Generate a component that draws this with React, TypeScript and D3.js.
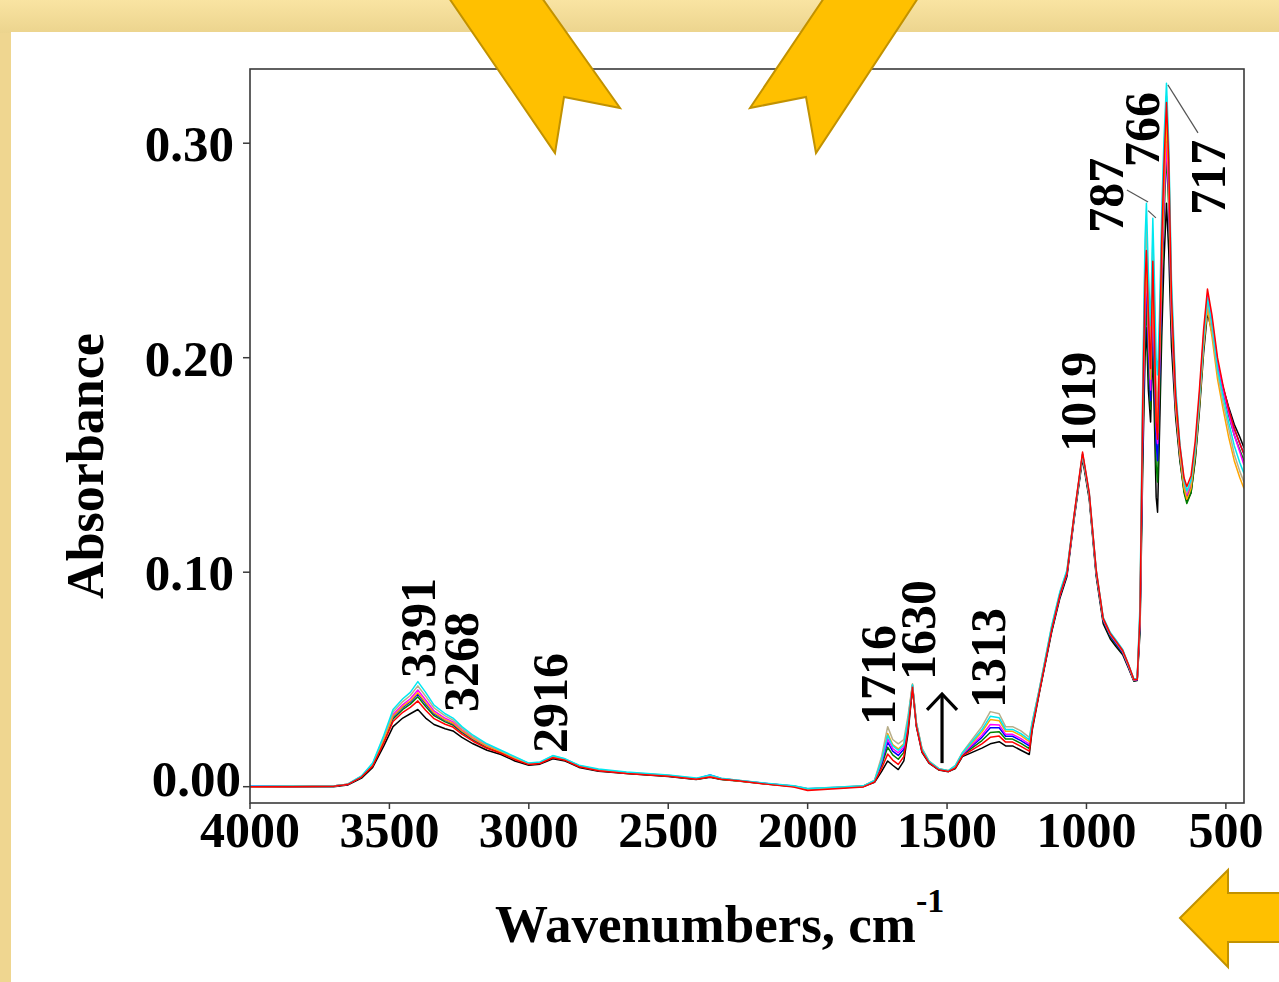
import * as d3 from 'd3';
import { useEffect, useRef } from 'react';

// shared wavenumber grid (cm-1), high to low
const WAVENUMBERS = [
  4000, 3850, 3700, 3650, 3600, 3560, 3520, 3487, 3452, 3425,
  3398, 3370, 3340, 3300, 3272, 3240, 3200, 3150, 3100, 3050,
  3000, 2960, 2914, 2870, 2820, 2750, 2650, 2500, 2400, 2350,
  2310, 2250, 2150, 2050, 2000, 1900, 1800, 1760, 1735, 1713,
  1695, 1675, 1655, 1640, 1624, 1610, 1590, 1565, 1530, 1495,
  1470, 1445, 1410, 1375, 1345, 1313, 1290, 1265, 1235, 1205,
  1195, 1170, 1125, 1095, 1070, 1045, 1014, 990, 965, 940,
  915, 895, 870, 850, 830, 818, 808, 798, 790, 785,
  778, 770, 762, 757, 750, 745, 738, 730, 722, 713,
  705, 695, 680, 665, 650, 640, 625, 610, 595, 580,
  566, 550, 530, 510, 490, 470, 450, 435
];

const ABS_BLACK = [
  0, 0, 0, 0.0008, 0.004, 0.009, 0.019, 0.028, 0.032, 0.034,
  0.036, 0.032, 0.029, 0.027, 0.026, 0.023, 0.020, 0.017, 0.015, 0.012,
  0.010, 0.0105, 0.013, 0.012, 0.009, 0.0072, 0.0061, 0.0048, 0.0034, 0.0044,
  0.0034, 0.0027, 0.0013, 0.0001, -0.0012, -0.0006, 0.0001, 0.002, 0.007, 0.012,
  0.010, 0.008, 0.012, 0.025, 0.046, 0.028, 0.016, 0.011, 0.0078, 0.007,
  0.0085, 0.014, 0.016, 0.018, 0.020, 0.021, 0.019, 0.019, 0.017, 0.015,
  0.026, 0.043, 0.072, 0.088, 0.098, 0.124, 0.153, 0.134, 0.098, 0.076,
  0.069, 0.0655, 0.0615, 0.0555, 0.0492, 0.0495, 0.072, 0.150, 0.200, 0.214,
  0.185, 0.170, 0.205, 0.175, 0.135, 0.128, 0.165, 0.210, 0.245, 0.272,
  0.250, 0.205, 0.172, 0.152, 0.138, 0.133, 0.137, 0.152, 0.175, 0.202,
  0.221, 0.212, 0.196, 0.186, 0.177, 0.169, 0.163, 0.158
];

const ABS_RED = [
  0, 0, 0.0002, 0.001, 0.0045, 0.0096, 0.0205, 0.0304, 0.0347, 0.037,
  0.040, 0.0356, 0.0317, 0.0291, 0.0278, 0.0245, 0.0212, 0.0179, 0.0156, 0.0126,
  0.0103, 0.0108, 0.0135, 0.0123, 0.0093, 0.0074, 0.0062, 0.0049, 0.0035, 0.0045,
  0.0035, 0.0028, 0.0012, -0.0002, -0.0018, -0.0009, -0.0001, 0.0022, 0.0084, 0.0152,
  0.0124, 0.0104, 0.014, 0.0266, 0.0464, 0.0284, 0.0164, 0.0112, 0.0079, 0.0071,
  0.0088, 0.0144, 0.0172, 0.020, 0.023, 0.0236, 0.0208, 0.0208, 0.0188, 0.0166,
  0.027, 0.0435, 0.073, 0.0895, 0.0995, 0.126, 0.156, 0.137, 0.101, 0.0785,
  0.0715, 0.068, 0.0635, 0.0572, 0.050, 0.050, 0.080, 0.180, 0.235, 0.250,
  0.220, 0.195, 0.245, 0.215, 0.170, 0.162, 0.205, 0.255, 0.290, 0.319,
  0.292, 0.228, 0.182, 0.159, 0.144, 0.140, 0.145, 0.161, 0.185, 0.213,
  0.232, 0.220, 0.200, 0.187, 0.176, 0.167, 0.160, 0.155
];

const ABS_GREEN = [
  0, 0.0002, 0.0003, 0.001, 0.0045, 0.0099, 0.0213, 0.0316, 0.036, 0.0385,
  0.0419, 0.0374, 0.0331, 0.0302, 0.0287, 0.0253, 0.0218, 0.0184, 0.0159, 0.0129,
  0.0105, 0.011, 0.0137, 0.0125, 0.0095, 0.0075, 0.0063, 0.005, 0.0035, 0.0046,
  0.0035, 0.0028, 0.0014, 0.0002, -0.0011, -0.0005, 0.0002, 0.0024, 0.0098, 0.0184,
  0.0148, 0.0128, 0.016, 0.0282, 0.0468, 0.0288, 0.0168, 0.0114, 0.008, 0.0072,
  0.009, 0.0147, 0.0181, 0.0215, 0.0253, 0.0256, 0.0222, 0.0222, 0.0202, 0.0178,
  0.0275, 0.0438, 0.0725, 0.089, 0.099, 0.1245, 0.154, 0.135, 0.099, 0.0772,
  0.070, 0.0665, 0.0622, 0.056, 0.0494, 0.0497, 0.075, 0.160, 0.210, 0.225,
  0.195, 0.176, 0.215, 0.190, 0.150, 0.142, 0.180, 0.230, 0.265, 0.295,
  0.270, 0.215, 0.175, 0.153, 0.137, 0.132, 0.137, 0.153, 0.177, 0.206,
  0.225, 0.214, 0.196, 0.184, 0.173, 0.164, 0.157, 0.152
];

const ABS_BLUE = [
  0.0002, 0.0002, 0.0003, 0.001, 0.0046, 0.0101, 0.0218, 0.0324, 0.037, 0.0395,
  0.0432, 0.0386, 0.034, 0.0309, 0.0293, 0.0258, 0.0222, 0.0187, 0.0161, 0.0131,
  0.0106, 0.011, 0.0138, 0.0126, 0.0096, 0.0076, 0.0064, 0.0051, 0.0036, 0.0055,
  0.0038, 0.0029, 0.0015, 0.0002, -0.0012, -0.0006, 0.0002, 0.0025, 0.0109, 0.0208,
  0.0166, 0.0146, 0.0175, 0.0294, 0.0471, 0.0291, 0.0171, 0.0115, 0.0081, 0.0072,
  0.0093, 0.015, 0.019, 0.023, 0.0275, 0.0275, 0.0235, 0.0235, 0.0215, 0.019,
  0.028, 0.044, 0.073, 0.0892, 0.0992, 0.125, 0.1545, 0.1355, 0.0995, 0.0775,
  0.0705, 0.067, 0.0625, 0.0562, 0.0495, 0.0498, 0.077, 0.165, 0.220, 0.235,
  0.205, 0.180, 0.225, 0.200, 0.160, 0.152, 0.190, 0.240, 0.275, 0.305,
  0.280, 0.220, 0.178, 0.155, 0.140, 0.135, 0.140, 0.156, 0.180, 0.208,
  0.227, 0.216, 0.198, 0.186, 0.176, 0.167, 0.160, 0.155
];

const ABS_MAGENTA = [
  0, 0.0002, 0.0003, 0.0011, 0.0048, 0.0104, 0.0225, 0.0336, 0.0383, 0.041,
  0.0451, 0.0404, 0.0353, 0.0319, 0.0302, 0.0265, 0.0228, 0.0191, 0.0164, 0.0134,
  0.0107, 0.0112, 0.014, 0.0127, 0.0097, 0.0077, 0.0065, 0.0052, 0.0037, 0.005,
  0.0037, 0.0029, 0.0015, 0.0003, -0.001, -0.0004, 0.0003, 0.0026, 0.0116, 0.0224,
  0.0178, 0.0158, 0.0185, 0.0302, 0.0473, 0.0293, 0.0173, 0.0116, 0.0082, 0.0073,
  0.0094, 0.0152, 0.0196, 0.024, 0.029, 0.0288, 0.0244, 0.0244, 0.0224, 0.0198,
  0.0285, 0.0443, 0.0735, 0.0895, 0.0995, 0.1252, 0.155, 0.136, 0.100, 0.078,
  0.071, 0.0675, 0.063, 0.0565, 0.0497, 0.050, 0.078, 0.170, 0.225, 0.240,
  0.210, 0.185, 0.232, 0.205, 0.168, 0.160, 0.195, 0.240, 0.272, 0.300,
  0.276, 0.218, 0.177, 0.155, 0.140, 0.136, 0.141, 0.157, 0.181, 0.210,
  0.229, 0.218, 0.198, 0.185, 0.174, 0.164, 0.156, 0.150
];

const ABS_ORANGE = [
  0, 0.0002, 0.0003, 0.0011, 0.0047, 0.0102, 0.022, 0.0328, 0.0374, 0.040,
  0.0438, 0.0392, 0.0344, 0.0312, 0.0296, 0.026, 0.0224, 0.0188, 0.0162, 0.0132,
  0.0106, 0.0111, 0.0139, 0.0126, 0.0096, 0.0077, 0.0065, 0.0051, 0.0036, 0.0047,
  0.0036, 0.0028, 0.0014, 0.0002, -0.0011, -0.0005, 0.0003, 0.0027, 0.0126, 0.0248,
  0.0196, 0.0176, 0.020, 0.0314, 0.0476, 0.0296, 0.0176, 0.0118, 0.0083, 0.0074,
  0.0096, 0.0155, 0.0205, 0.0255, 0.0313, 0.0308, 0.0258, 0.0258, 0.0238, 0.021,
  0.029, 0.0445, 0.074, 0.090, 0.100, 0.1255, 0.1548, 0.1358, 0.1002, 0.0782,
  0.0712, 0.0678, 0.0632, 0.0567, 0.0498, 0.0501, 0.079, 0.175, 0.230, 0.245,
  0.215, 0.190, 0.238, 0.210, 0.172, 0.165, 0.200, 0.245, 0.280, 0.310,
  0.284, 0.222, 0.178, 0.155, 0.139, 0.134, 0.139, 0.155, 0.178, 0.205,
  0.223, 0.210, 0.190, 0.176, 0.163, 0.152, 0.144, 0.139
];

const ABS_TAN = [
  0, 0.0002, 0.0003, 0.0012, 0.0049, 0.0107, 0.0233, 0.0348, 0.0397, 0.0425,
  0.047, 0.0422, 0.0367, 0.033, 0.0311, 0.0273, 0.0234, 0.0196, 0.0167, 0.0137,
  0.0109, 0.0113, 0.0143, 0.0129, 0.0099, 0.0079, 0.0066, 0.0053, 0.0038, 0.0049,
  0.0038, 0.003, 0.0015, 0.0003, -0.0009, -0.0003, 0.0004, 0.003, 0.014, 0.028,
  0.022, 0.020, 0.022, 0.033, 0.048, 0.030, 0.018, 0.012, 0.0085, 0.0075,
  0.010, 0.016, 0.022, 0.028, 0.035, 0.034, 0.028, 0.028, 0.026, 0.023,
  0.030, 0.045, 0.0745, 0.0905, 0.1005, 0.1258, 0.1552, 0.1362, 0.1005, 0.0785,
  0.0715, 0.068, 0.0635, 0.057, 0.050, 0.0502, 0.082, 0.185, 0.245, 0.262,
  0.230, 0.205, 0.255, 0.228, 0.185, 0.178, 0.212, 0.260, 0.295, 0.322,
  0.295, 0.230, 0.183, 0.158, 0.142, 0.137, 0.142, 0.157, 0.180, 0.207,
  0.226, 0.213, 0.193, 0.179, 0.167, 0.155, 0.147, 0.142
];

const ABS_CYAN = [
  0.0002, 0.0002, 0.0003, 0.0012, 0.005, 0.011, 0.024, 0.036, 0.041, 0.044,
  0.049, 0.044, 0.038, 0.034, 0.032, 0.028, 0.024, 0.020, 0.017, 0.014,
  0.011, 0.0115, 0.0145, 0.013, 0.010, 0.0082, 0.0068, 0.0054, 0.004, 0.0055,
  0.004, 0.003, 0.0016, 0.0004, -0.0008, -0.0003, 0.0004, 0.0029, 0.0123, 0.024,
  0.019, 0.017, 0.0195, 0.031, 0.0475, 0.0295, 0.0175, 0.0118, 0.0084, 0.0075,
  0.0098, 0.0157, 0.0211, 0.0265, 0.0328, 0.0321, 0.0267, 0.0267, 0.0247, 0.0218,
  0.0295, 0.0448, 0.075, 0.091, 0.101, 0.126, 0.155, 0.137, 0.101, 0.079,
  0.072, 0.0685, 0.064, 0.0572, 0.0502, 0.0505, 0.085, 0.190, 0.255, 0.272,
  0.240, 0.215, 0.265, 0.240, 0.200, 0.192, 0.220, 0.268, 0.302, 0.328,
  0.300, 0.236, 0.186, 0.160, 0.143, 0.138, 0.143, 0.158, 0.182, 0.209,
  0.228, 0.216, 0.195, 0.182, 0.170, 0.159, 0.151, 0.146
];

// drawing order: red ends on top, like the original plot
const SERIES = [
  { color: '#000000', values: ABS_BLACK },
  { color: '#008000', values: ABS_GREEN },
  { color: '#0000ff', values: ABS_BLUE },
  { color: '#ff00ff', values: ABS_MAGENTA },
  { color: '#ffa500', values: ABS_ORANGE },
  { color: '#b8ae8a', values: ABS_TAN },
  { color: '#00e8f0', values: ABS_CYAN },
  { color: '#ff0000', values: ABS_RED }
];

const X_TICKS = [4000, 3500, 3000, 2500, 2000, 1500, 1000, 500];
const Y_TICKS = [0, 0.1, 0.2, 0.3];

// peak labels: text, and where the rotated text starts (wavenumber, absorbance)
const PEAK_TEXT = ['3391', '3268', '2916', '1716', '1630', '1313', '1019', '787', '766', '717'];
const PEAK_TEXT_WN = [3336, 3182, 2863, 1687, 1543, 1292, 969, 869, 740, 503];
const PEAK_TEXT_ABS = [0.0507, 0.0348, 0.0157, 0.0288, 0.0498, 0.0367, 0.1561, 0.2582, 0.2889, 0.2666];

// leader lines for the crowded peaks: [wn1, abs1, wn2, abs2]
const LEADERS = [
  [855, 0.2782, 779, 0.2726],
  [779, 0.2686, 751, 0.2652],
  [708, 0.3272, 600, 0.3048]
];

// growth arrow near 1500 cm-1
const ARROW_WN = 1518;
const ARROW_ABS = [0.011, 0.0437];

const FONT = "'Liberation Serif', 'Times New Roman', serif";

function App() {
  const svgRef = useRef<SVGSVGElement>(null);

  useEffect(() => {
    if (!svgRef.current) { return; }
    const svg = d3.select(svgRef.current);
    svg.selectAll('*').remove();

    const width = 1279;
    const height = 982;
    const plot = { left: 250, top: 69, right: 1244, bottom: 803 };

    // slide background
    const defs = svg.append('defs');
    const grad = defs.append('linearGradient').attr('id', 'band').attr('x1', 0).attr('x2', 0).attr('y1', 0).attr('y2', 1);
    grad.append('stop').attr('offset', '0%').attr('stop-color', '#f9e4a2');
    grad.append('stop').attr('offset', '100%').attr('stop-color', '#ecd48e');
    svg.append('rect').attr('width', width).attr('height', height).attr('fill', '#efd690');
    svg.append('rect').attr('width', width).attr('height', 33).attr('fill', 'url(#band)');
    svg.append('rect').attr('x', 11).attr('y', 32).attr('width', width - 11).attr('height', height - 32).attr('fill', '#ffffff');

    const x = d3.scaleLinear().domain([4000, 435]).range([plot.left, plot.right]);
    const y = d3.scaleLinear().domain([-0.0076, 0.3346]).range([plot.bottom, plot.top]);

    defs.append('clipPath').attr('id', 'plotclip')
      .append('rect')
      .attr('x', plot.left).attr('y', plot.top)
      .attr('width', plot.right - plot.left).attr('height', plot.bottom - plot.top);

    // spectra
    const line = d3.line<number>()
      .x((_, i) => x(WAVENUMBERS[i]))
      .y((d) => y(d));

    const curves = svg.append('g').attr('clip-path', 'url(#plotclip)');
    SERIES.forEach((s) => {
      curves.append('path')
        .attr('d', line(s.values))
        .attr('fill', 'none')
        .attr('stroke', s.color)
        .attr('stroke-width', 1.5)
        .attr('stroke-linejoin', 'round');
    });

    // frame
    svg.append('rect')
      .attr('x', plot.left).attr('y', plot.top)
      .attr('width', plot.right - plot.left).attr('height', plot.bottom - plot.top)
      .attr('fill', 'none')
      .attr('stroke', '#3a3a3a')
      .attr('stroke-width', 1.6);

    // x ticks
    X_TICKS.forEach((t) => {
      svg.append('line')
        .attr('x1', x(t)).attr('x2', x(t))
        .attr('y1', plot.bottom).attr('y2', plot.bottom + 6)
        .attr('stroke', '#3a3a3a').attr('stroke-width', 1.5);
      svg.append('text')
        .attr('x', x(t))
        .attr('y', 847)
        .attr('text-anchor', 'middle')
        .attr('font-family', FONT)
        .attr('font-weight', 'bold')
        .attr('font-size', 50)
        .attr('fill', '#000')
        .text(String(t));
    });

    // y ticks
    Y_TICKS.forEach((t) => {
      svg.append('line')
        .attr('x1', plot.left - 7).attr('x2', plot.left)
        .attr('y1', y(t)).attr('y2', y(t))
        .attr('stroke', '#3a3a3a').attr('stroke-width', 1.5);
      const isZero = t === 0;
      svg.append('text')
        .attr('x', isZero ? 241 : 234)
        .attr('y', y(t) + (isZero ? 9 : 18))
        .attr('text-anchor', 'end')
        .attr('font-family', FONT)
        .attr('font-weight', 'bold')
        .attr('font-size', 51)
        .attr('fill', '#000')
        .text(t.toFixed(2));
    });

    // axis titles
    svg.append('text')
      .attr('transform', `translate(103,${(plot.top + plot.bottom) / 2 + 30}) rotate(-90)`)
      .attr('text-anchor', 'middle')
      .attr('font-family', FONT)
      .attr('font-weight', 'bold')
      .attr('font-size', 52)
      .attr('fill', '#000')
      .text('Absorbance');

    const xTitle = svg.append('text')
      .attr('x', 495)
      .attr('y', 942)
      .attr('font-family', FONT)
      .attr('font-weight', 'bold')
      .attr('font-size', 53)
      .attr('fill', '#000');
    xTitle.append('tspan').text('Wavenumbers, cm');
    xTitle.append('tspan').attr('dy', -30).attr('font-size', 34).text('-1');

    // peak labels
    PEAK_TEXT.forEach((label, i) => {
      const px = x(PEAK_TEXT_WN[i]);
      const py = y(PEAK_TEXT_ABS[i]);
      svg.append('text')
        .attr('transform', `translate(${px},${py}) rotate(-90)`)
        .attr('font-family', FONT)
        .attr('font-weight', 'bold')
        .attr('font-size', 50)
        .attr('fill', '#000')
        .text(label);
    });

    LEADERS.forEach(([w1, a1, w2, a2]) => {
      svg.append('line')
        .attr('x1', x(w1)).attr('y1', y(a1))
        .attr('x2', x(w2)).attr('y2', y(a2))
        .attr('stroke', '#555')
        .attr('stroke-width', 1.2);
    });

    // growth arrow
    const ax = x(ARROW_WN);
    const aTop = y(ARROW_ABS[1]);
    const aBottom = y(ARROW_ABS[0]);
    svg.append('line')
      .attr('x1', ax).attr('x2', ax)
      .attr('y1', aBottom).attr('y2', aTop + 1)
      .attr('stroke', '#000').attr('stroke-width', 3.2);
    svg.append('path')
      .attr('d', `M${ax - 15},${aTop + 17} L${ax},${aTop + 1} L${ax + 15},${aTop + 17}`)
      .attr('fill', 'none')
      .attr('stroke', '#000')
      .attr('stroke-width', 3.2);

    // slide decoration arrows
    const arrowStyle = (sel: d3.Selection<SVGPolygonElement, unknown, null, undefined>) =>
      sel.attr('fill', '#ffc000').attr('stroke', '#c29200').attr('stroke-width', 2).attr('stroke-linejoin', 'miter');

    arrowStyle(svg.append('polygon')
      .attr('points', '449,-2 542,-2 620,108 564,97 555,153'));
    arrowStyle(svg.append('polygon')
      .attr('points', '824,-2 918,-2 816,153 806,97 750,108'));
    arrowStyle(svg.append('polygon')
      .attr('points', '1180,918 1228,870 1228,893 1281,893 1281,942 1228,942 1228,967'));
  }, []);

  return (
    <svg
      ref={svgRef}
      width={1279}
      height={982}
      style={{ position: 'absolute', left: 0, top: 0, display: 'block' }}
    />
  );
}

export default App;
